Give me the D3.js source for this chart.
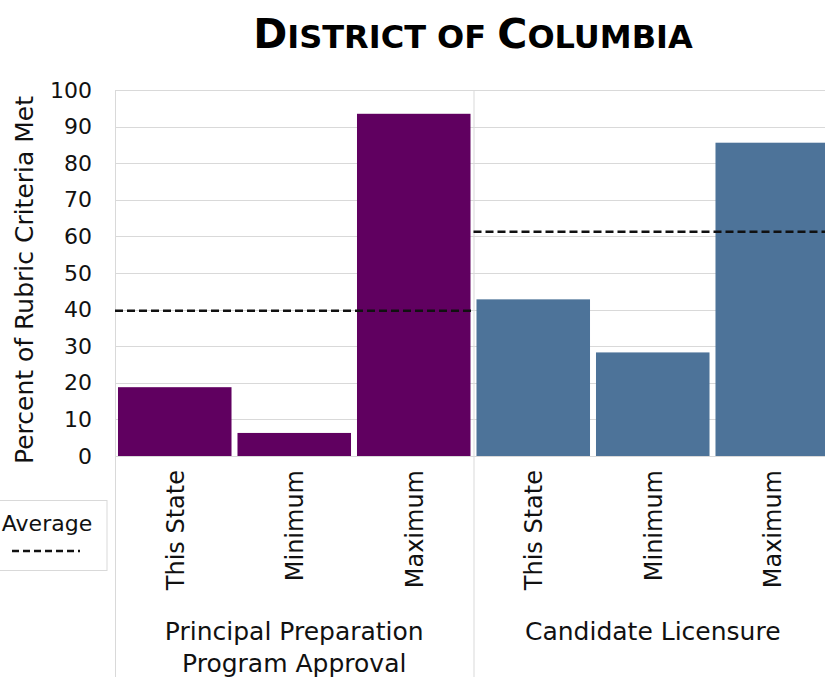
<!DOCTYPE html>
<html>
<head>
<meta charset="utf-8">
<script src="https://cdn.jsdelivr.net/npm/d3@7"></script>
<style>
  body { margin: 0; background: #fff; }
  svg { display: block; font-family: "DejaVu Sans", sans-serif; }
</style>
</head>
<body>
<div id="chart"></div>
<script>
const width = 825;
const height = 677;

// data
const groups = ["Principal Preparation Program Approval", "Candidate Licensure"];
const categories = ["This State", "Minimum", "Maximum"];
const prepValues = [18.8, 6.3, 93.5];
const licValues = [42.8, 28.3, 85.6];
const averages = [39.7, 61.3];
const groupColors = ["#600060", "#4d7399"];
const yTicks = [0, 10, 20, 30, 40, 50, 60, 70, 80, 90, 100];

const margin = {left: 115, top: 90, bottom: 456};
const catWidth = 119.5;

const svg = d3.select("#chart").append("svg")
  .attr("width", width)
  .attr("height", height);

const y = d3.scaleLinear().domain([0, 100]).range([margin.bottom, margin.top]);

const slots = [];
groups.forEach((g, gi) => {
  const vals = gi === 0 ? prepValues : licValues;
  categories.forEach((c, ci) => {
    slots.push({group: gi, cat: c, value: vals[ci], key: gi + "-" + ci});
  });
});

const x = d3.scaleBand()
  .domain(slots.map(d => d.key))
  .range([margin.left, margin.left + catWidth * slots.length])
  .paddingInner(0.05)
  .paddingOuter(0.025);

// gridlines
svg.append("g").selectAll("line").data(yTicks.filter(t => t > 0)).enter().append("line")
  .attr("x1", margin.left).attr("x2", width)
  .attr("y1", d => Math.round(y(d)) + 0.5).attr("y2", d => Math.round(y(d)) + 0.5)
  .attr("stroke", "#d9d9d9").attr("stroke-width", 1);

// bars
svg.append("g").selectAll("rect").data(slots).enter().append("rect")
  .attr("x", d => x(d.key))
  .attr("y", d => y(d.value))
  .attr("width", x.bandwidth())
  .attr("height", d => y(0) - y(d.value))
  .attr("fill", d => groupColors[d.group]);

// base line and group separators
svg.append("line")
  .attr("x1", margin.left).attr("x2", width)
  .attr("y1", y(0) + 0.5).attr("y2", y(0) + 0.5)
  .attr("stroke", "#d9d9d9");

const groupEdges = [margin.left, margin.left + catWidth * 3];
svg.append("g").selectAll("line").data(groupEdges).enter().append("line")
  .attr("x1", d => d + 0.5).attr("x2", d => d + 0.5)
  .attr("y1", margin.top).attr("y2", height)
  .attr("stroke", "#d9d9d9");

// average lines
svg.append("g").selectAll("line").data(averages).enter().append("line")
  .attr("x1", (d, i) => margin.left + i * catWidth * 3)
  .attr("x2", (d, i) => Math.min(width, margin.left + (i + 1) * catWidth * 3))
  .attr("y1", d => y(d)).attr("y2", d => y(d))
  .attr("stroke", "#111").attr("stroke-width", 2.5)
  .attr("stroke-dasharray", "8,4");

// y axis tick labels
const yAxis = d3.axisLeft(y).tickValues(yTicks).tickSize(0).tickPadding(0);
const yg = svg.append("g")
  .attr("transform", `translate(${margin.left - 23},0)`)
  .call(yAxis);
yg.select(".domain").remove();
yg.selectAll("text")
  .attr("font-size", 22)
  .attr("font-family", "DejaVu Sans, sans-serif")
  .attr("fill", "#111");

// y title
svg.append("text")
  .attr("transform", `translate(33,${(margin.top + margin.bottom) / 2 + 7}) rotate(-90)`)
  .attr("text-anchor", "middle")
  .attr("font-size", 25)
  .attr("fill", "#111")
  .text("Percent of Rubric Criteria Met");

// category labels
svg.append("g").selectAll("text").data(slots).enter().append("text")
  .attr("transform", d => `translate(${x(d.key) + x.bandwidth() / 2 + 9},${y(0) + 14}) rotate(-90)`)
  .attr("text-anchor", "end")
  .attr("font-size", 24)
  .attr("fill", "#111")
  .text(d => d.cat);

// group labels
const groupLines = [["Principal Preparation", "Program Approval"], ["Candidate Licensure"]];
groupLines.forEach((lines, gi) => {
  const cx = margin.left + catWidth * 3 * gi + catWidth * 1.5;
  lines.forEach((t, li) => {
    svg.append("text")
      .attr("x", cx)
      .attr("y", 640 + li * 32)
      .attr("text-anchor", "middle")
      .attr("font-size", 25)
      .attr("fill", "#111")
      .text(t);
  });
});

// title (small caps)
const title = svg.append("text")
  .attr("x", 473)
  .attr("y", 48)
  .attr("text-anchor", "middle")
  .attr("font-weight", "bold")
  .attr("fill", "#000");
[["D", 41], ["ISTRICT OF ", 32], ["C", 41], ["OLUMBIA", 32]].forEach(([t, s]) => {
  title.append("tspan").attr("font-size", s).text(t);
});

// legend
const legend = svg.append("g");
legend.append("rect")
  .attr("x", -5).attr("y", 500.5).attr("width", 112).attr("height", 70)
  .attr("fill", "#fff").attr("stroke", "#d9d9d9");
legend.append("text")
  .attr("x", 47).attr("y", 531)
  .attr("text-anchor", "middle")
  .attr("font-size", 22)
  .attr("fill", "#111")
  .text("Average");
legend.append("line")
  .attr("x1", 12).attr("x2", 80)
  .attr("y1", 551).attr("y2", 551)
  .attr("stroke", "#111").attr("stroke-width", 2.5)
  .attr("stroke-dasharray", "7,4");
</script>
</body>
</html>
